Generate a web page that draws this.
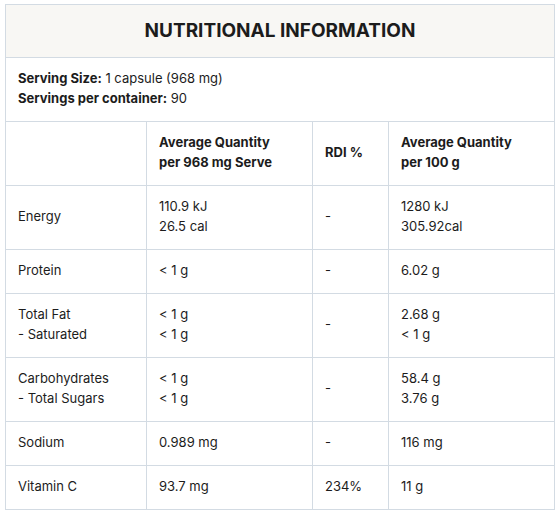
<!DOCTYPE html>
<html lang="en">

<head>
    <meta charset="UTF-8" />
    <title>Nutritional Information</title>
    <script src="https://cdn.jsdelivr.net/npm/chart.js"></script>
    <style>
        body {
            margin: 0;
            background: #fff;
            font-family: Inter, "Noto Sans", sans-serif;
            color: #1c1c1c;
        }

        table {
            position: absolute;
            left: 5px;
            top: 4px;
            width: 549px;
            border-collapse: collapse;
            table-layout: fixed;
            font-size: 13px;
            line-height: 20px;
        }

        td,
        th {
            border: 1px solid #d3dbe3;
            padding: 0 12px 3px 12px;
            text-align: left;
            vertical-align: middle;
            font-weight: normal;
        }

        .titulo {
            background: #f8f7f4;
            text-align: center;
            font-size: 19px;
            font-weight: 700;
            height: 51px;
            padding: 0 12px 1px 12px;
        }

        .porcao {
            height: 60px;
        }

        b,
        .cab {
            font-weight: 700;
        }

        .alto td {
            height: 60px;
        }

        .baixo td {
            height: 40px;
        }
    </style>
</head>

<body>
    <table id="tabela">
        <colgroup>
            <col style="width:141px">
            <col style="width:166px">
            <col style="width:76px">
            <col style="width:166px">
        </colgroup>
        <tr>
            <td colspan="4" class="titulo" id="titulo"></td>
        </tr>
        <tr>
            <td colspan="4" class="porcao" id="porcao"></td>
        </tr>
        <tbody id="corpo"></tbody>
    </table>
</body>

<script>

    var titulo = 'NUTRITIONAL INFORMATION'
    var servingSize = '1 capsule (968 mg)'
    var servingsPerContainer = '90'

    var colunas = ['', 'Average Quantity<br>per 968 mg Serve', 'RDI %', 'Average Quantity<br>per 100 g']

    var nutrientes = ['Energy', 'Protein', 'Total Fat<br>- Saturated', 'Carbohydrates<br>- Total Sugars', 'Sodium', 'Vitamin C']
    var porServe = ['110.9 kJ<br>26.5 cal', '&lt; 1 g', '&lt; 1 g<br>&lt; 1 g', '&lt; 1 g<br>&lt; 1 g', '0.989 mg', '93.7 mg']
    var rdi = ['-', '-', '-', '-', '-', '234%']
    var por100g = ['1280 kJ<br>305.92cal', '6.02 g', '2.68 g<br>&lt; 1 g', '58.4 g<br>3.76 g', '116 mg', '11 g']

    document.getElementById('titulo').innerHTML = titulo
    document.getElementById('porcao').innerHTML =
        `<b>Serving Size:</b> ${servingSize}<br><b>Servings per container:</b> ${servingsPerContainer}`

    var corpo = document.getElementById('corpo')

    // linha de cabecalho
    var cab = '<tr class="alto">'
    for (var i = 0; i < colunas.length; i++) {
        cab += `<td class="cab">${colunas[i]}</td>`
    }
    corpo.innerHTML += cab + '</tr>'

    // linhas dos nutrientes
    for (var i = 0; i < nutrientes.length; i++) {
        var classe = nutrientes[i].indexOf('<br>') >= 0 || porServe[i].indexOf('<br>') >= 0 ? 'alto' : 'baixo'
        corpo.innerHTML += `<tr class="${classe}">
            <td>${nutrientes[i]}</td>
            <td>${porServe[i]}</td>
            <td>${rdi[i]}</td>
            <td>${por100g[i]}</td>
        </tr>`
    }

</script>

</html>
